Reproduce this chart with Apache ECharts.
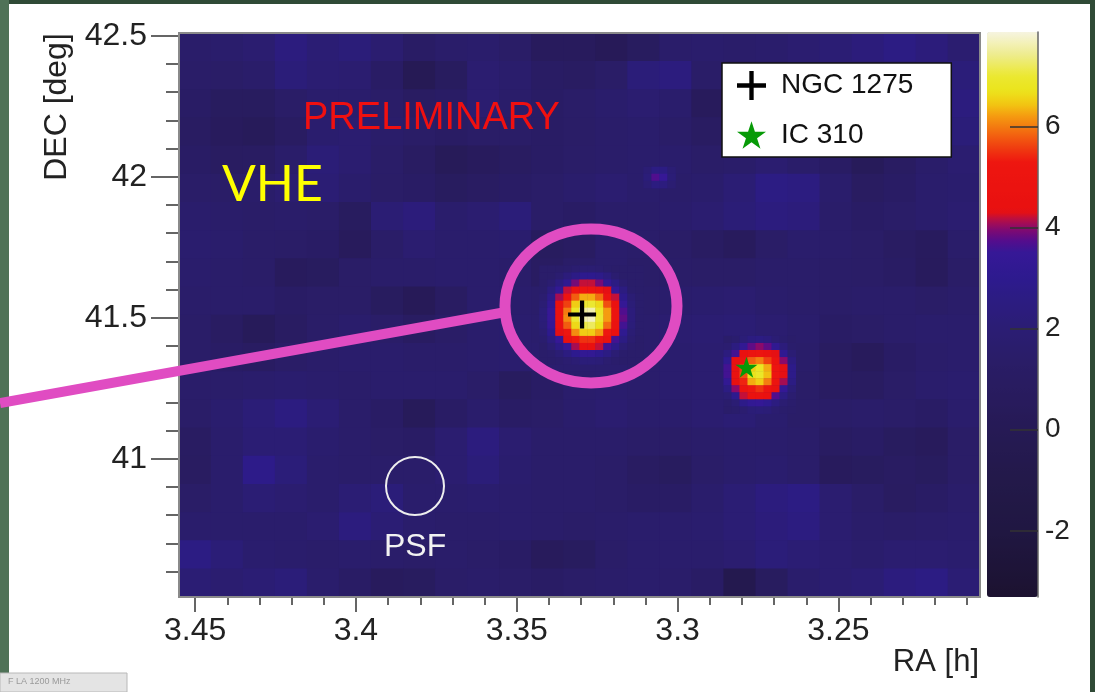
<!DOCTYPE html>
<html>
<head>
<meta charset="utf-8">
<title>NGC 1275 / IC 310 VHE significance map</title>
<script src="https://cdn.jsdelivr.net/npm/echarts@6/dist/echarts.min.js"></script>
<style>
  html, body { margin: 0; padding: 0; background: #fff; }
  #chart { width: 1095px; height: 692px; }
</style>
</head>
<body>
<div id="chart"></div>
<script>
// axis ranges (RA runs right to left)
var raRange = [3.206, 3.455];
var decRange = [40.51, 42.51];
var sigRange = [-3.31, 7.87];

var raMajor = [3.25, 3.3, 3.35, 3.4, 3.45];
var raMinor = [3.21, 3.22, 3.23, 3.24, 3.26, 3.27, 3.28, 3.29, 3.31, 3.32, 3.33, 3.34,
               3.36, 3.37, 3.38, 3.39, 3.41, 3.42, 3.43, 3.44];
var decMajor = [41, 41.5, 42, 42.5];
var decMinor = [40.6, 40.7, 40.8, 40.9, 41.1, 41.2, 41.3, 41.4, 41.6, 41.7, 41.8, 41.9,
                42.1, 42.2, 42.3, 42.4];
var sigTicks = [-2, 0, 2, 4, 6];

// background significance: 20 rows (DEC high -> low) x 25 cols (RA high -> low)
var bgSig = [
  [1.5,1.6,1.8,2.4,2.0,2.2,1.8,1.2,1.5,1.6,1.3,0.6,0.6,0.2,0.8,1.5,1.6,1.5,1.6,1.8,2.0,2.3,2.6,2.3,1.8],
  [1.4,1.3,1.5,2.2,1.9,1.8,1.2,0.0,0.8,1.8,1.6,1.1,1.0,1.3,2.2,2.4,1.4,0.9,1.2,1.6,1.8,1.8,2.0,2.0,2.2],
  [1.2,0.8,0.8,1.3,1.6,1.6,1.4,1.0,1.2,1.8,1.5,1.2,1.4,1.6,1.8,1.6,0.5,0.8,1.4,1.5,1.4,1.6,1.8,2.0,2.4],
  [1.0,0.6,0.4,1.0,1.7,1.8,1.5,1.3,1.1,1.3,1.3,1.2,1.3,1.5,1.6,1.4,1.0,1.1,1.5,1.7,1.6,1.6,1.6,1.8,2.2],
  [1.2,0.9,1.0,1.5,2.1,1.8,1.4,1.0,0.3,0.6,0.9,1.2,1.4,1.5,1.6,1.6,1.4,1.5,1.8,1.5,1.1,0.4,1.0,1.5,1.8],
  [1.4,1.3,1.5,1.8,2.0,1.6,1.3,1.2,0.8,1.0,1.2,1.4,1.6,1.8,1.6,1.5,1.6,2.0,2.6,2.5,1.6,0.9,1.2,1.6,1.7],
  [1.6,1.5,1.4,1.5,1.4,0.8,2.0,2.3,1.6,1.8,2.2,1.4,1.2,1.5,1.5,1.6,1.8,2.1,2.4,2.3,1.5,1.2,1.4,1.6,1.8],
  [1.7,1.6,1.4,1.3,1.2,0.5,1.4,1.8,1.6,1.6,1.7,0.8,1.0,1.6,1.5,1.3,1.0,0.6,1.3,1.6,1.5,1.3,1.0,0.7,1.5],
  [1.6,1.5,1.4,0.6,0.8,1.3,1.5,1.5,1.6,1.6,1.5,1.0,1.4,1.6,1.4,1.4,1.3,1.3,1.5,1.5,1.4,1.3,1.1,0.6,1.3],
  [1.5,1.5,1.5,1.2,1.3,1.3,0.8,0.2,1.0,1.6,1.6,1.5,1.6,1.6,1.5,1.6,1.7,1.8,1.6,1.5,1.4,1.5,1.5,1.3,1.5],
  [1.4,1.0,0.4,1.0,1.4,1.6,1.4,1.0,1.3,1.6,1.7,1.6,1.6,1.7,1.6,1.8,1.9,2.0,1.8,1.6,1.2,1.3,1.5,1.6,1.6],
  [1.4,1.2,1.0,1.3,1.5,1.6,1.6,1.5,1.5,1.6,1.7,1.7,1.7,1.7,1.6,1.7,1.8,1.8,1.8,1.5,0.9,0.5,1.2,1.5,1.6],
  [1.5,1.5,1.6,1.7,1.6,1.5,1.6,1.6,1.6,1.4,0.8,1.2,1.6,1.7,1.6,1.7,1.8,1.7,1.6,1.4,1.0,0.9,1.3,1.6,1.7],
  [1.4,1.7,2.1,2.5,2.0,1.5,1.2,0.4,1.2,1.6,1.2,1.3,1.6,1.8,1.6,1.6,1.8,2.0,1.7,1.4,1.4,1.5,1.4,1.2,1.6],
  [1.0,1.6,2.0,2.0,1.7,1.5,1.3,1.2,1.8,2.4,1.8,1.5,1.5,1.5,1.4,1.3,1.5,1.6,1.6,1.5,1.0,1.2,0.8,0.5,1.3],
  [0.9,1.6,2.8,2.2,1.6,1.5,1.5,1.5,1.8,2.2,1.7,1.5,1.5,1.4,1.0,0.8,1.4,1.6,1.7,1.5,0.6,0.8,1.0,0.8,1.3],
  [1.3,1.6,2.0,1.8,1.6,2.0,2.2,1.6,1.6,1.7,1.6,1.5,1.5,1.4,1.2,1.2,1.6,2.0,2.4,2.6,1.8,1.4,0.9,1.2,1.5],
  [1.6,1.6,1.6,1.6,1.8,2.4,2.0,1.6,1.5,1.5,1.6,1.5,1.4,1.5,1.6,1.6,1.7,2.0,2.3,2.5,1.8,1.5,1.4,1.5,1.6],
  [2.6,2.1,1.7,1.6,1.5,1.6,1.5,1.4,1.5,1.4,1.2,0.5,0.8,1.4,1.6,1.6,1.6,1.8,2.2,2.0,1.8,1.6,1.8,1.8,1.7],
  [2.0,1.8,2.0,2.2,1.6,1.2,0.6,0.8,1.4,1.5,1.4,1.2,1.4,1.5,1.6,1.5,1.2,-0.5,0.8,1.6,1.8,2.0,2.4,2.6,2.0]
];

// finer patches around the hot spots: [RA, DEC] of the first (top-left) cell, rows DEC high -> low
var ngcStart = [3.3417, 41.6725];
var ngcSig = [
  [1.5,1.5,1.5,1.6,1.8,1.9,1.9,1.8,1.6,1.5,1.5,1.5,1.5],
  [1.5,1.5,1.8,2.3,2.7,3.0,3.0,2.8,2.4,1.8,1.5,1.5,1.5],
  [1.5,1.8,2.5,3.2,3.9,4.2,4.2,3.9,3.3,2.6,1.8,1.5,1.5],
  [1.6,2.4,3.3,4.2,4.9,5.2,5.2,4.9,4.3,3.4,2.5,1.6,1.5],
  [1.8,2.8,4.1,5.0,5.8,6.3,6.3,5.9,5.0,4.2,2.9,2.0,1.6],
  [2.0,3.2,4.6,5.6,6.5,7.0,7.0,6.6,5.7,4.6,3.4,2.1,1.6],
  [2.2,3.5,4.8,6.0,6.9,7.5,7.6,6.9,6.2,4.9,3.7,2.3,1.6],
  [2.2,3.5,4.8,6.1,7.0,7.6,7.7,7.0,6.2,5.0,3.8,2.3,1.6],
  [2.1,3.4,4.7,5.8,6.6,7.1,7.2,6.7,5.9,4.8,3.6,2.2,1.6],
  [1.9,3.0,4.3,5.2,6.1,6.5,6.5,6.2,5.3,4.4,3.1,2.0,1.6],
  [1.7,2.5,3.5,4.5,5.1,5.5,5.5,5.1,4.6,3.6,2.6,1.8,1.5],
  [1.5,2.0,2.7,3.5,4.1,4.5,4.5,4.2,3.6,2.8,2.0,1.6,1.5],
  [1.5,1.6,2.0,2.5,3.0,3.3,3.3,3.0,2.6,2.0,1.6,1.5,1.5],
  [1.5,1.5,1.6,1.8,2.0,2.2,2.2,2.1,1.8,1.6,1.5,1.5,1.5]
];
var icStart = [3.2844, 41.4225];
var icSig = [
  [1.5,1.7,2.1,2.5,2.6,2.4,2.0,1.7,1.5],
  [1.8,2.5,3.3,3.8,4.0,3.8,3.2,2.3,1.6],
  [2.4,3.6,4.5,4.8,4.9,4.7,4.3,3.2,2.0],
  [3.1,4.4,5.0,5.8,6.0,5.6,4.8,4.0,2.5],
  [3.6,4.6,5.6,6.5,6.8,6.3,5.2,4.3,2.8],
  [3.6,4.7,5.7,6.7,6.9,6.4,5.2,4.3,2.8],
  [3.3,4.5,5.4,6.3,6.5,6.0,4.9,4.1,2.6],
  [2.6,4.0,4.8,5.3,5.5,5.0,4.5,3.4,2.1],
  [2.0,3.0,4.2,4.6,4.7,4.4,3.7,2.6,1.8],
  [1.6,2.0,2.8,3.3,3.4,3.1,2.5,1.9,1.6],
  [1.5,1.6,1.8,2.1,2.2,2.1,1.8,1.6,1.5]
];
var spotStart = [3.3093, 42.0225];
var spotSig = [
  [2.0,2.6,2.6,2.0],
  [2.2,3.7,3.5,2.1],
  [2.0,2.5,2.4,1.9]
];

// source positions [RA h, DEC deg]
var ngc1275 = [3.3297, 41.5117];
var ic310 = [3.2786, 41.3247];

// colour table of the significance scale
var palStops = [
  [-3.31, '#1c1230'], [-2, '#201742'], [-1, '#231949'], [0, '#261a55'], [1, '#291c62'],
  [1.5, '#2a1d6a'], [2, '#2b1d74'], [2.5, '#2c1c80'], [3, '#2d1a8e'], [3.5, '#351896'],
  [3.75, '#560c8c'], [4.0, '#8a0a6a'], [4.2, '#c2103a'], [4.3, '#e81010'], [5.3, '#ee1610'],
  [5.6, '#f04010'], [5.9, '#f36c10'], [6.2, '#f59a10'], [6.45, '#f2c812'], [6.7, '#ebe41c'],
  [7.0, '#ebe830'], [7.4, '#eeec8a'], [7.87, '#f6f4e0']
];

var FONT = 'Liberation Sans, Arial, Helvetica, sans-serif';
var BG_COLS = 25, BG_ROWS = 20, FINE_COLS = 100, FINE_ROWS = 80;
var raStepFine = (raRange[1] - raRange[0]) / FINE_COLS;
var decStepFine = (decRange[1] - decRange[0]) / FINE_ROWS;

function idxList(n) {
  var a = [];
  for (var i = 0; i < n; i++) a.push(String(i));
  return a;
}

function hexRgb(h) {
  return [parseInt(h.substr(1, 2), 16), parseInt(h.substr(3, 2), 16), parseInt(h.substr(5, 2), 16)];
}

function buildPalette(n) {
  var out = [];
  for (var i = 0; i < n; i++) {
    var v = sigRange[0] + (sigRange[1] - sigRange[0]) * i / (n - 1);
    var k = 0;
    while (k < palStops.length - 2 && v > palStops[k + 1][0]) k++;
    var a = palStops[k], b = palStops[k + 1];
    var t = Math.max(0, Math.min(1, (v - a[0]) / (b[0] - a[0])));
    var ca = hexRgb(a[1]), cb = hexRgb(b[1]);
    out.push('rgb(' + [0, 1, 2].map(function (j) {
      return Math.round(ca[j] + (cb[j] - ca[j]) * t);
    }).join(',') + ')');
  }
  return out;
}

var bgData = [];
bgSig.forEach(function (row, i) {
  row.forEach(function (v, k) { bgData.push([k, BG_ROWS - 1 - i, v]); });
});

function patchData(start, rows) {
  var c0 = Math.floor((raRange[1] - start[0]) / raStepFine);
  var r0 = Math.floor((start[1] - decRange[0]) / decStepFine);
  var out = [];
  rows.forEach(function (row, i) {
    row.forEach(function (v, k) { out.push([c0 + k, r0 - i, v]); });
  });
  return out;
}
var fineData = patchData(ngcStart, ngcSig)
  .concat(patchData(icStart, icSig))
  .concat(patchData(spotStart, spotSig));

var crossPath = 'path://M8.5,0h3v8.5h8.5v3h-8.5v8.5h-3v-8.5h-8.5v-3h8.5z';
var starPath = 'path://M10,0L12.245,6.91L19.51,6.91L13.633,11.18L15.88,18.09L10,13.82L4.12,18.09L6.367,11.18L0.49,6.91L7.755,6.91Z';

function numLabel(v) { return String(+(+v).toFixed(3)); }

var chart = echarts.init(document.getElementById('chart'), null, { renderer: 'canvas' });

var option = {
  animation: false,
  backgroundColor: '#fff',
  textStyle: { fontFamily: FONT },
  grid: [
    { left: 179, top: 33, width: 801, height: 564, show: true, backgroundColor: '#2a1d6a', borderWidth: 0 },
    { left: 987, top: 32, width: 51, height: 565 }
  ],
  xAxis: [
    {
      type: 'value', gridIndex: 0, min: raRange[0], max: raRange[1], inverse: true, position: 'bottom',
      axisLine: { show: false, onZero: false }, splitLine: { show: false },
      axisTick: { customValues: raMajor, length: 15, lineStyle: { color: '#333', width: 1.5 } },
      axisLabel: { customValues: raMajor, fontSize: 32, margin: 18, color: '#222', fontFamily: FONT, formatter: numLabel }
    },
    {
      type: 'value', gridIndex: 0, min: raRange[0], max: raRange[1], inverse: true, position: 'bottom',
      axisLine: { show: false, onZero: false }, splitLine: { show: false }, axisLabel: { show: false },
      axisTick: { customValues: raMinor, length: 8, lineStyle: { color: '#333', width: 1.5 } }
    },
    { type: 'category', gridIndex: 0, data: idxList(BG_COLS), show: false },
    { type: 'category', gridIndex: 0, data: idxList(FINE_COLS), show: false },
    { type: 'value', gridIndex: 1, show: false, min: 1, max: 2, axisLine: { onZero: false } }
  ],
  yAxis: [
    {
      type: 'value', gridIndex: 0, min: decRange[0], max: decRange[1], position: 'left',
      axisLine: { show: false, onZero: false }, splitLine: { show: false },
      axisTick: { customValues: decMajor, length: 28, lineStyle: { color: '#333', width: 1.5 } },
      axisLabel: { customValues: decMajor, fontSize: 32, margin: 32, color: '#222', fontFamily: FONT, formatter: numLabel }
    },
    {
      type: 'value', gridIndex: 0, min: decRange[0], max: decRange[1], position: 'left',
      axisLine: { show: false, onZero: false }, splitLine: { show: false }, axisLabel: { show: false },
      axisTick: { customValues: decMinor, length: 13, lineStyle: { color: '#333', width: 1.5 } }
    },
    { type: 'category', gridIndex: 0, data: idxList(BG_ROWS), show: false },
    { type: 'category', gridIndex: 0, data: idxList(FINE_ROWS), show: false },
    {
      type: 'value', gridIndex: 1, min: sigRange[0], max: sigRange[1], position: 'right', z: 10,
      axisLine: { show: true, onZero: false, lineStyle: { color: '#666', width: 1.5 } },
      splitLine: { show: false },
      axisTick: { inside: true, customValues: sigTicks, length: 28, lineStyle: { color: '#333', width: 1.5 } },
      axisLabel: { customValues: sigTicks, fontSize: 28, margin: 7, color: '#222', fontFamily: FONT, formatter: numLabel }
    }
  ],
  visualMap: {
    type: 'continuous',
    min: sigRange[0],
    max: sigRange[1],
    seriesIndex: [0, 1],
    orient: 'vertical',
    left: 987,
    top: 32,
    itemWidth: 51,
    itemHeight: 565,
    padding: 0,
    z: 2,
    calculable: false,
    hoverLink: false,
    inRange: { color: buildPalette(224) }
  },
  legend: {
    data: [
      { name: 'NGC 1275', icon: crossPath },
      { name: 'IC 310', icon: starPath }
    ],
    orient: 'vertical',
    left: 722,
    top: 63,
    itemWidth: 29,
    itemHeight: 29,
    itemGap: 21,
    padding: [8, 38, 8, 15],
    backgroundColor: '#fff',
    borderColor: '#111',
    borderWidth: 1.5,
    selectedMode: false,
    textStyle: { fontSize: 28, color: '#111', fontFamily: FONT, padding: [0, 0, 0, 10] }
  },
  series: [
    {
      type: 'heatmap', name: 'background', xAxisIndex: 2, yAxisIndex: 2, data: bgData,
      progressive: 0, emphasis: { disabled: true }, silent: true
    },
    {
      type: 'heatmap', name: 'sources', xAxisIndex: 3, yAxisIndex: 3, data: fineData,
      progressive: 0, emphasis: { disabled: true }, silent: true
    },
    {
      type: 'scatter', name: 'NGC 1275', xAxisIndex: 0, yAxisIndex: 0, z: 6,
      symbol: crossPath, symbolSize: 28, itemStyle: { color: '#000', opacity: 1 }, data: [ngc1275], silent: true
    },
    {
      type: 'scatter', name: 'IC 310', xAxisIndex: 0, yAxisIndex: 0, z: 6,
      symbol: starPath, symbolSize: [22, 21], itemStyle: { color: '#079a07', opacity: 1 }, data: [ic310], silent: true
    }
  ],
  graphic: [
    // slide edges
    { type: 'rect', shape: { x: 0, y: 0, width: 1095, height: 4 }, style: { fill: '#2f4a36' }, z: 50 },
    { type: 'rect', shape: { x: 0, y: 0, width: 9, height: 673 }, style: { fill: '#4f7257' }, z: 50 },
    { type: 'rect', shape: { x: 1090, y: 0, width: 5, height: 692 }, style: { fill: '#2f4a36' }, z: 50 },
    { type: 'rect', shape: { x: 0, y: 673, width: 127, height: 19 }, style: { fill: '#e4e4e4', stroke: '#b8b8b8', lineWidth: 1 }, z: 50 },
    { type: 'text', x: 8, y: 682, z: 51, style: { text: 'F LA 1200 MHz', fill: '#9a9a9a', font: '9px ' + FONT, textVerticalAlign: 'middle', verticalAlign: 'middle' } },
    // plot frame
    { type: 'rect', shape: { x: 179, y: 33, width: 801, height: 564 }, style: { fill: 'none', stroke: '#8a8a8a', lineWidth: 2 }, z: 60 },
    // annotations
    { type: 'line', shape: { x1: 0, y1: 403, x2: 506, y2: 312 }, style: { stroke: '#e04cc2', lineWidth: 10 }, z: 70 },
    { type: 'ellipse', shape: { cx: 591, cy: 306, rx: 86, ry: 77 }, style: { fill: 'none', stroke: '#e04cc2', lineWidth: 11 }, z: 70 },
    { type: 'circle', shape: { cx: 415, cy: 486, r: 29 }, style: { fill: 'none', stroke: '#eeeeee', lineWidth: 2 }, z: 70 },
    { type: 'text', x: 303, y: 119, z: 70, style: { text: 'PRELIMINARY', fill: '#f01010', font: '38px ' + FONT, textVerticalAlign: 'middle', verticalAlign: 'middle' } },
    { type: 'text', x: 222, y: 185, z: 70, style: { text: 'VHE', fill: '#ffff00', font: '50px Lato, ' + FONT, textVerticalAlign: 'middle', verticalAlign: 'middle' } },
    { type: 'text', x: 384, y: 547, z: 70, style: { text: 'PSF', fill: '#f2f2f2', font: '32px ' + FONT, textVerticalAlign: 'middle', verticalAlign: 'middle' } },
    // axis titles
    { type: 'text', x: 57, y: 107, rotation: Math.PI / 2, z: 70, style: { text: 'DEC [deg]', fill: '#222', font: '32px ' + FONT, textAlign: 'center', align: 'center', textVerticalAlign: 'middle', verticalAlign: 'middle' } },
    { type: 'text', x: 979, y: 662, z: 70, style: { text: 'RA [h]', fill: '#222', font: '31px ' + FONT, textAlign: 'right', align: 'right', textVerticalAlign: 'middle', verticalAlign: 'middle' } }
  ]
};

chart.setOption(option);
window.addEventListener('resize', function () { chart.resize(); });
</script>
</body>
</html>
